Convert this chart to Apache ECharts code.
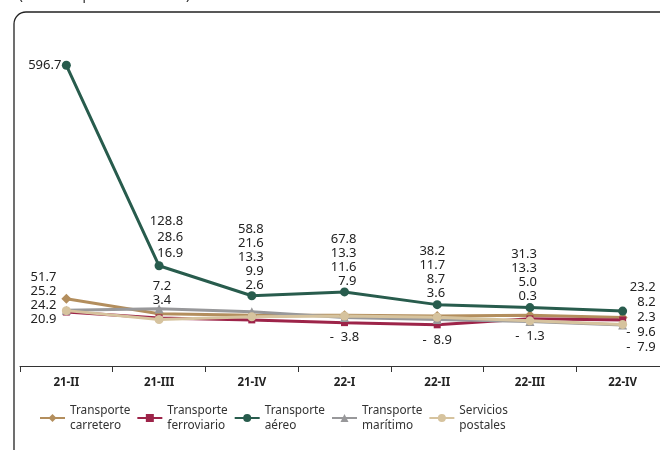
<!DOCTYPE html>
<html><head><meta charset="utf-8">
<script src="https://cdn.jsdelivr.net/npm/echarts@6/dist/echarts.min.js"></script>
<style>html,body{margin:0;padding:0;background:#fff}#c{width:660px;height:450px}</style>
</head><body><div id="c"></div>
<script>
// ---- data ----
const categories = ['21-II', '21-III', '21-IV', '22-I', '22-II', '22-III', '22-IV'];
const carretero   = [51.7, 16.9, 13.3, 13.3, 11.7, 13.3, 8.2];
const ferroviario = [20.9, 7.2, 2.6, -3.8, -8.9, 5.0, 2.3];
const aereo       = [596.7, 128.8, 58.8, 67.8, 38.2, 31.3, 23.2];
const maritimo    = [25.2, 28.6, 21.6, 7.9, 3.6, -1.3, -9.6];
const postales    = [24.2, 3.4, 9.9, 11.6, 8.7, 0.3, -7.9];
const seriesNames = ['Transporte\ncarretero', 'Transporte\nferroviario', 'Transporte\naéreo', 'Transporte\nmarítimo', 'Servicios\npostales'];
const titleText = '(Variación porcentual anual)';

// ---- styles ----
const FONT = 'Noto Sans';
const colors = ['#B38E5D', '#9D2449', '#285C4D', '#98989A', '#D6C39E'];
const symbols = ['diamond', 'rect', 'circle', 'triangle', 'circle'];
const symbolSizes = [10, 7, 9, 9, 9];
const seriesData = [carretero, ferroviario, aereo, maritimo, postales];
const AEREO = 2;

function fmt(v) { return v < 0 ? '-  ' + Math.abs(v).toFixed(1) : v.toFixed(1); }

const chart = echarts.init(document.getElementById('c'), null, { renderer: 'canvas' });

function buildSeries(labelOpts) {
  return seriesData.map((arr, s) => ({
    name: seriesNames[s],
    type: 'line',
    data: arr.map((v, i) => {
      const item = { value: v };
      if (labelOpts && labelOpts[s][i]) item.label = labelOpts[s][i];
      return item;
    }),
    symbol: symbols[s],
    symbolSize: symbolSizes[s],
    showAllSymbol: true,
    color: colors[s],
    lineStyle: { width: 3, color: colors[s] },
    itemStyle: { color: colors[s] },
    label: {
      show: !!labelOpts,
      formatter: p => fmt(p.value),
      fontFamily: FONT, fontSize: 13, color: '#222'
    },
    emphasis: { disabled: true },
    animation: false
  }));
}

const option = {
  animation: false,
  backgroundColor: '#fff',
  title: {
    text: titleText, left: 14, top: -15,
    textStyle: { fontFamily: FONT, fontSize: 13, fontWeight: 'normal', color: '#222' }
  },
  graphic: [{
    type: 'rect', silent: true, z: -1,
    shape: { x: 14, y: 12, width: 720, height: 520, r: 12 },
    style: { fill: 'none', stroke: '#222', lineWidth: 1.3 }
  }],
  grid: { left: 20, right: -9, top: 21, bottom: 84, containLabel: false, outerBoundsMode: 'none' },
  legend: {
    left: 34, top: 398, itemWidth: 25, itemHeight: 10, itemGap: 6,
    textStyle: { fontFamily: FONT, fontSize: 11.8, color: '#333', lineHeight: 15 },
    data: seriesNames
  },
  xAxis: {
    type: 'category', data: categories, boundaryGap: true,
    axisLine: { onZero: false, lineStyle: { color: '#333', width: 1 } },
    axisTick: { show: true, length: 6, lineStyle: { color: '#333' } },
    axisLabel: { fontFamily: FONT, fontSize: 11.5, fontWeight: 'bold', color: '#222', margin: 11 }
  },
  yAxis: {
    type: 'value', min: -105, max: 700, show: false,
    splitLine: { show: false }
  },
  series: buildSeries(null)
};
chart.setOption(option);

// ---- second pass: position data labels in stacks like the reference ----
const layoutSpec = [
  { mode: 'left' },
  { mode: 'split', nAbove: 3, dxTop: 24, dxLow: 12 },
  { mode: 'above', dx: 12 },
  { mode: 'above', dx: 12 },
  { mode: 'above', dx: 8 },
  { mode: 'above', dx: 7 },
  { mode: 'right' }
];
const labelOpts = seriesData.map(() => []);
categories.forEach((c, i) => {
  const pts = seriesData.map((arr, s) => {
    const px = chart.convertToPixel({ xAxisIndex: 0, yAxisIndex: 0 }, [i, arr[i]]);
    return { s, v: arr[i], x: px[0], y: px[1] };
  });
  const others = pts.filter(p => p.s !== AEREO);
  const pos = others.filter(p => p.v >= 0).sort((a, b) => b.v - a.v);
  const neg = others.filter(p => p.v < 0);
  const a = pts[AEREO];
  const lowestY = Math.max(...others.map(p => p.y));
  const highestY = Math.min(...others.map(p => p.y));
  const spec = layoutSpec[i];
  const place = (p, tx, ty, align) => {
    labelOpts[p.s][i] = { position: 'inside', align, verticalAlign: 'middle', offset: [tx - p.x, ty - p.y] };
  };
  const stackUp = (list, x, bottomY, step, align) => {
    list.forEach((p, k) => place(p, x, bottomY - step * (list.length - 1 - k), align));
  };
  if (spec.mode === 'left') {
    place(a, a.x - 5, a.y, 'right');
    stackUp(pos.concat(neg), a.x - 10, lowestY + 7, 14, 'right');
  } else if (spec.mode === 'split') {
    const top = [a].concat(pos.slice(0, spec.nAbove - 1));
    const low = pos.slice(spec.nAbove - 1);
    stackUp(top, a.x + spec.dxTop, a.y - 13, 16, 'right');
    stackUp(low, a.x + spec.dxLow, highestY - 8, 14, 'right');
    neg.forEach((p, k) => place(p, a.x, lowestY + 15 + 13 * k, 'center'));
  } else if (spec.mode === 'above') {
    stackUp([a].concat(pos), a.x + spec.dx, a.y - 11, 14, 'right');
    neg.forEach((p, k) => place(p, a.x, lowestY + 15 + 13 * k, 'center'));
  } else {
    const list = [a].concat(pos, neg);
    list.forEach((p, k) => place(p, a.x + 33, a.y - 24 + 15 * k, 'right'));
  }
});
chart.setOption({ series: buildSeries(labelOpts) });
</script>
</body></html>
